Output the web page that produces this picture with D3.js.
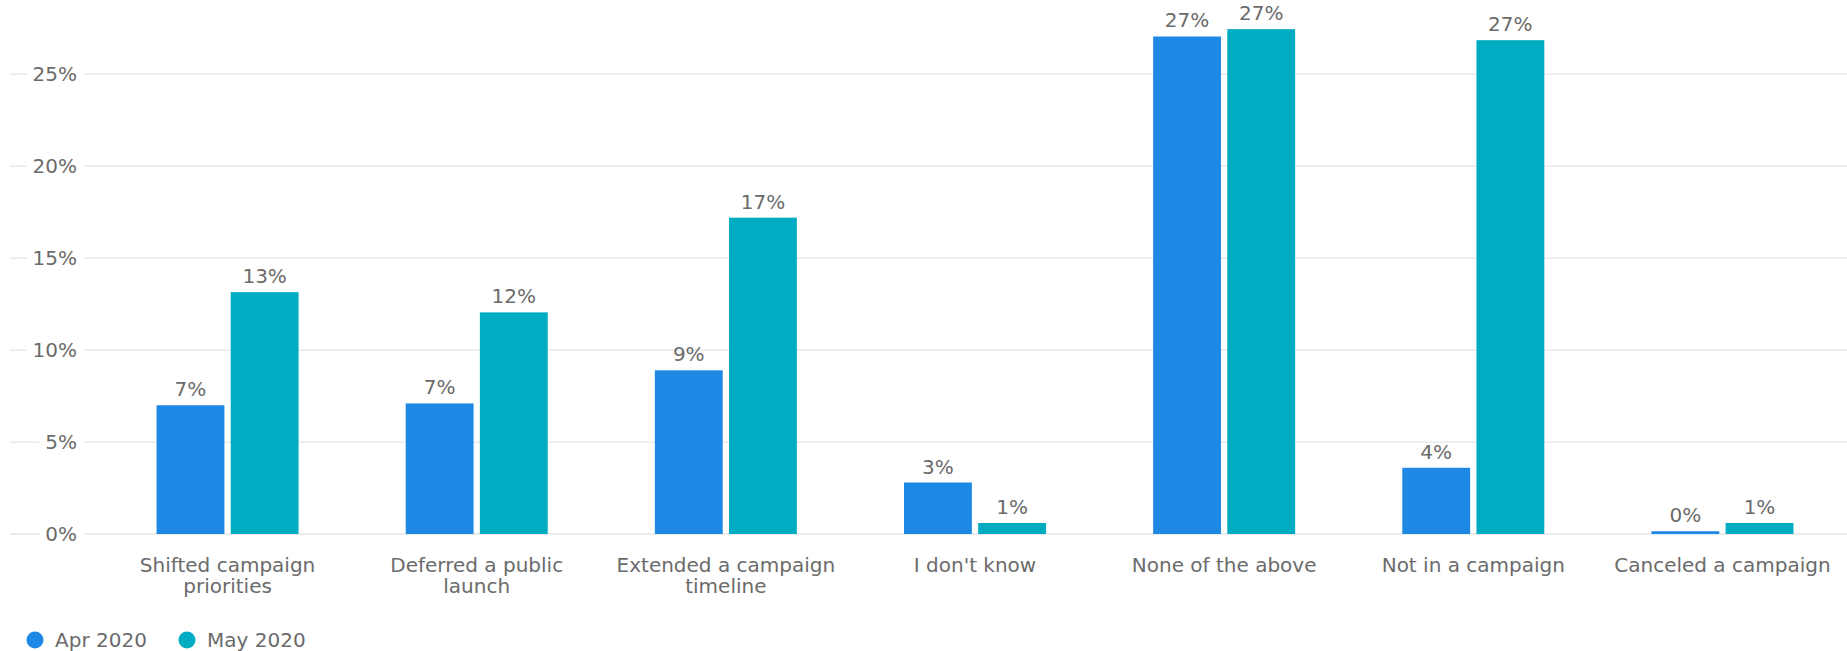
<!DOCTYPE html>
<html>
<head>
<meta charset="utf-8">
<script src="https://cdn.jsdelivr.net/npm/d3@7"></script>
<style>
  body { margin: 0; background: #fff; }
  text { font-family: "DejaVu Sans", Verdana, sans-serif; fill: #6b6b6b; font-size: 20px; }
</style>
</head>
<body>
<div id="chart"></div>
<script>
// Chart data
const categories = ["Shifted campaign priorities", "Deferred a public launch", "Extended a campaign timeline",
                    "I don't know", "None of the above", "Not in a campaign", "Canceled a campaign"];
const seriesNames = ["Apr 2020", "May 2020"];
const apr2020 = [7.0, 7.1, 8.9, 2.8, 27.05, 3.6, 0.15];
const may2020 = [13.15, 12.05, 17.2, 0.6, 27.45, 26.85, 0.6];
const yTicks = [0, 5, 10, 15, 20, 25];
const colors = ["#1E88E5", "#00ACC1"];

const svgWidth = 1847;
const svgHeight = 651;

const svg = d3.select("#chart")
  .append("svg")
  .attr("width", svgWidth)
  .attr("height", svgHeight);

// scales
const x0 = d3.scaleBand()
  .domain(categories)
  .range([103, 1847])
  .paddingInner(0.43)
  .paddingOuter(0.215);

const x1 = d3.scaleBand()
  .domain(seriesNames)
  .range([0, x0.bandwidth()])
  .paddingInner(0.085);

const y = d3.scaleLinear()
  .domain([0, 25])
  .range([534, 74.2]);

// gridlines + y labels
const grid = svg.append("g");
yTicks.forEach(t => {
  grid.append("line")
    .attr("x1", 10).attr("x2", svgWidth)
    .attr("y1", y(t)).attr("y2", y(t))
    .attr("stroke", "#e6e6e6")
    .attr("stroke-width", 1.3);
  const lbl = grid.append("text")
    .attr("x", 77)
    .attr("y", y(t))
    .attr("dy", "0.35em")
    .attr("text-anchor", "end")
    .text(t + "%");
  const bb = lbl.node().getBBox();
  grid.insert("rect", "text:last-child")
    .attr("x", bb.x - 6).attr("y", bb.y)
    .attr("width", bb.width + 13).attr("height", bb.height)
    .attr("fill", "#fff");
});

// bars
const rows = categories.map((c, i) => ({ cat: c, vals: [apr2020[i], may2020[i]] }));

const groups = svg.selectAll(".grp")
  .data(rows)
  .enter()
  .append("g")
  .attr("transform", d => `translate(${x0(d.cat)},0)`);

groups.selectAll("rect")
  .data(d => d.vals.map((v, k) => ({ key: seriesNames[k], v: v, k: k })))
  .enter()
  .append("rect")
  .attr("x", d => x1(d.key))
  .attr("y", d => y(d.v))
  .attr("width", x1.bandwidth())
  .attr("height", d => y(0) - y(d.v))
  .attr("fill", d => colors[d.k]);

groups.selectAll(".val")
  .data(d => d.vals.map((v, k) => ({ key: seriesNames[k], v: v })))
  .enter()
  .append("text")
  .attr("x", d => x1(d.key) + x1.bandwidth() / 2)
  .attr("y", d => y(d.v) - 9)
  .attr("text-anchor", "middle")
  .text(d => Math.round(d.v) + "%");

// x labels, wrapped
function wrapLines(text, maxW, measure) {
  const words = text.split(" ");
  const lines = [];
  let line = [];
  words.forEach(w => {
    line.push(w);
    measure.text(line.join(" "));
    if (measure.node().getComputedTextLength() > maxW && line.length > 1) {
      line.pop();
      lines.push(line.join(" "));
      line = [w];
    }
  });
  lines.push(line.join(" "));
  return lines;
}

const xLabels = svg.append("g");
categories.forEach(c => {
  const t = xLabels.append("text")
    .attr("text-anchor", "middle");
  const lines = wrapLines(c, 228, t);
  t.text(null);
  lines.forEach((l, i) => {
    t.append("tspan")
      .attr("x", x0(c) + x0.bandwidth() / 2)
      .attr("y", 572 + i * 21)
      .text(l);
  });
});

// legend
const legend = svg.append("g").attr("transform", "translate(35, 640)");
seriesNames.forEach((s, i) => {
  const g = legend.append("g").attr("transform", `translate(${i * 152}, 0)`);
  g.append("circle").attr("r", 8.5).attr("fill", colors[i]);
  g.append("text")
    .attr("x", 20)
    .attr("dy", "0.35em")
    .text(s);
});
</script>
</body>
</html>
